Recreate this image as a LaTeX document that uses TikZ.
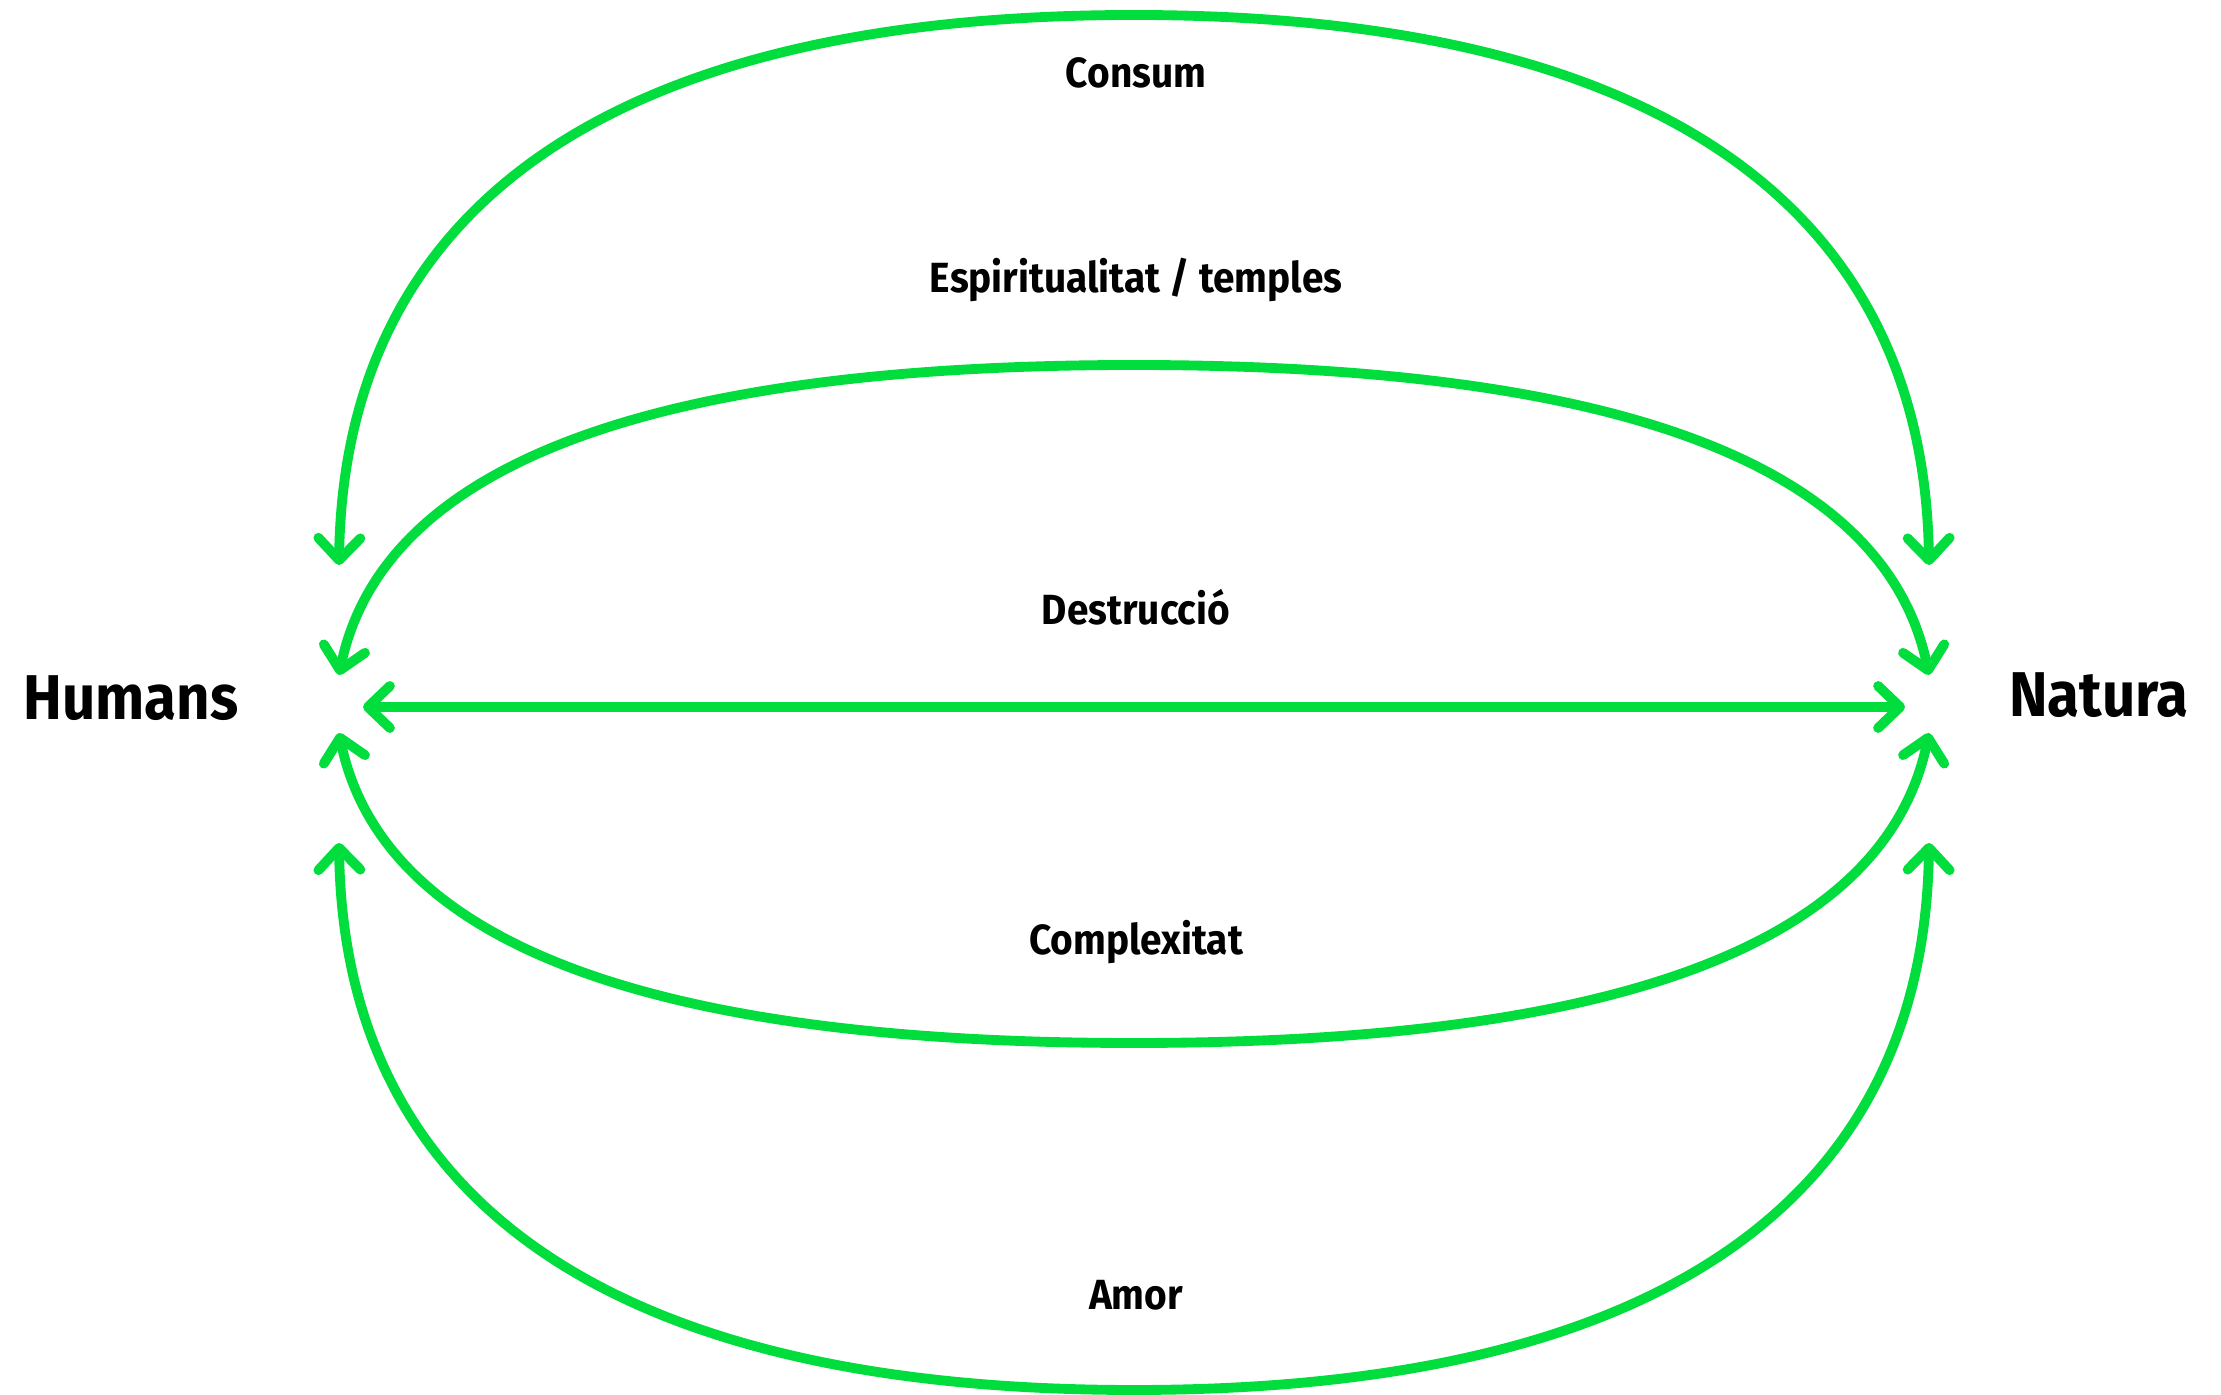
\documentclass[tikz,border=0pt]{standalone}
\usepackage{fontspec}
\setmainfont{Fira Sans}[FakeStretch=0.92]
\usepackage{tikz}
\usetikzlibrary{
  arrows.meta,
  positioning
}
\definecolor{linkcolor}{RGB}{0, 221, 60}
\definecolor{labelcolor}{RGB}{0, 0, 0}
\tikzset{
poletext/.style={
  font=\fontsize{18}{20}\selectfont\bfseries,
  text=labelcolor,
  inner sep=0pt,
  anchor=base
},
linklabel/.style={
  font=\fontsize{12}{14}\selectfont\bfseries,
  text=labelcolor,
  inner sep=0pt,
  anchor=base
},
link/.style={
  {Straight Barb[length=2.2mm,width=4.2mm,round]}-{Straight Barb[length=2.2mm,width=4.2mm,round]},
  line width=2.8pt,
  line cap=round,
  draw=linkcolor
}
}

\begin{document}
\begin{tikzpicture}
  \useasboundingbox (0,0) rectangle (22.21,13.95);
  \node[poletext] (humans) at (1.31,6.75) {Humans};
  \node[poletext] (natura) at (20.99,6.78) {Natura};

  \coordinate (h1) at (3.39,8.30);
  \coordinate (h2) at (3.39,7.20);
  \coordinate (h3) at (3.63,6.88);
  \coordinate (h4) at (3.39,6.62);
  \coordinate (h5) at (3.39,5.52);
  \coordinate (n1) at (19.29,8.30);
  \coordinate (n2) at (19.29,7.20);
  \coordinate (n3) at (19.05,6.88);
  \coordinate (n4) at (19.29,6.62);
  \coordinate (n5) at (19.29,5.52);
  \coordinate (consumtop) at (11.34,13.80);
  \coordinate (esptop) at (11.34,10.30);
  \coordinate (compbot) at (11.34,3.52);
  \coordinate (amorbot) at (11.34,0.05);

  \draw[link] (h1) .. controls +(0.05,3.6) and +(-5.2,0) .. (consumtop)
    .. controls +(5.2,0) and +(-0.05,3.6) .. (n1);
  \draw[link] (h2) .. controls +(0.4,1.95) and +(-5.2,0) .. (esptop)
    .. controls +(5.2,0) and +(-0.4,1.95) .. (n2);
  \draw[link] (h3) -- (n3);
  \draw[link] (h4) .. controls +(0.4,-1.95) and +(-5.2,0) .. (compbot)
    .. controls +(5.2,0) and +(-0.4,-1.95) .. (n4);
  \draw[link] (h5) .. controls +(0.05,-3.6) and +(-5.2,0) .. (amorbot)
    .. controls +(5.2,0) and +(-0.05,-3.6) .. (n5);

  \node[linklabel] (consum) at (11.36,13.07) {Consum};
  \node[linklabel] (espiritualitat) at (11.36,11.02) {Espiritualitat / temples};
  \node[linklabel] (destruccio) at (11.36,7.70) {Destrucció};
  \node[linklabel] (complexitat) at (11.36,4.40) {Complexitat};
  \node[linklabel] (amor) at (11.36,0.85) {Amor};
\end{tikzpicture}
\end{document}
